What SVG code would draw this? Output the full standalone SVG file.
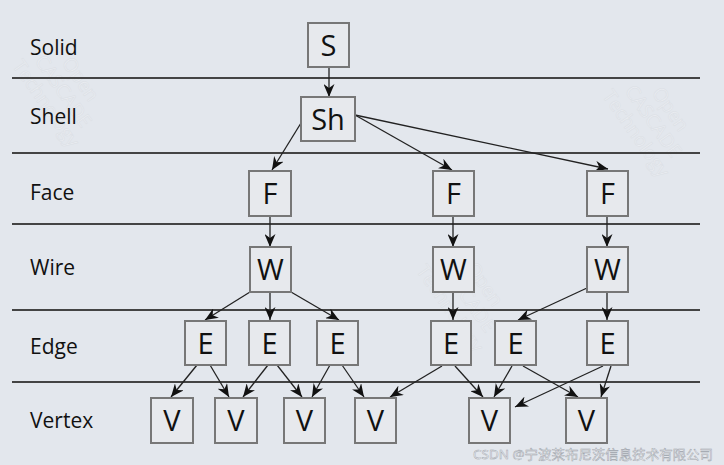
<svg xmlns="http://www.w3.org/2000/svg" width="724" height="465" viewBox="0 0 724 465">
<defs>
<marker id="ah" markerUnits="userSpaceOnUse" markerWidth="14" markerHeight="11" refX="13" refY="5.5" orient="auto">
<path d="M0,0 L13,5.5 L0,11 L4,5.5 Z" fill="#111"/>
</marker>
</defs>
<style>
.bg{fill:#e3e7ed}
.sep{stroke:#444;stroke-width:2}
.lbl{font-family:"Open Sans","Noto Sans",sans-serif;font-size:21px;fill:#111}
.box{fill:#e7e9ed;stroke:#777;stroke-width:2}
.nt{font-family:"Open Sans","Noto Sans",sans-serif;font-size:29px;fill:#111;text-anchor:middle}
.cn{stroke:#222;stroke-width:1.3;fill:none;marker-end:url(#ah)}
.wm{font-family:"Open Sans","Noto Sans",sans-serif;font-size:19px;fill:#eef0f4;stroke:#d6dae0;stroke-width:0.5;text-anchor:middle;opacity:0.6}
</style>
<rect class="bg" x="0" y="0" width="724" height="465"/>
<g id="watermarks">
<text class="wm" transform="translate(58,95) rotate(55)"><tspan x="0" y="-21">Open</tspan><tspan x="0" y="0">CASCADE</tspan><tspan x="0" y="21">Technology</tspan></text>
<text class="wm" transform="translate(648,125) rotate(55)"><tspan x="0" y="-21">Open</tspan><tspan x="0" y="0">CASCADE</tspan><tspan x="0" y="21">Technology</tspan></text>
<text class="wm" transform="translate(462,300) rotate(55)"><tspan x="0" y="-21">Open</tspan><tspan x="0" y="0">CASCADE</tspan><tspan x="0" y="21">Technology</tspan></text>
</g>
<g id="separators">
<line class="sep" x1="12" y1="78" x2="700" y2="78"/>
<line class="sep" x1="12" y1="153" x2="700" y2="153"/>
<line class="sep" x1="12" y1="224" x2="700" y2="224"/>
<line class="sep" x1="12" y1="310" x2="700" y2="310"/>
<line class="sep" x1="12" y1="382" x2="700" y2="382"/>
</g>
<g id="labels">
<text class="lbl" x="30" y="55">Solid</text>
<text class="lbl" x="30" y="124">Shell</text>
<text class="lbl" x="30" y="200">Face</text>
<text class="lbl" x="30" y="275">Wire</text>
<text class="lbl" x="30" y="354">Edge</text>
<text class="lbl" x="30" y="428">Vertex</text>
</g>
<g id="connectors">
<line class="cn" x1="329" y1="67" x2="329" y2="97"/>
<line class="cn" x1="301" y1="123" x2="272" y2="170"/>
<line class="cn" x1="355" y1="115" x2="452" y2="170"/>
<line class="cn" x1="355" y1="115" x2="608" y2="169"/>
<line class="cn" x1="270" y1="216" x2="270" y2="247"/>
<line class="cn" x1="453" y1="216" x2="453" y2="247"/>
<line class="cn" x1="607" y1="216" x2="607" y2="247"/>
<line class="cn" x1="250" y1="292" x2="205" y2="320"/>
<line class="cn" x1="270" y1="292" x2="270" y2="320"/>
<line class="cn" x1="291" y1="292" x2="339" y2="320"/>
<line class="cn" x1="453" y1="292" x2="453" y2="320"/>
<line class="cn" x1="587" y1="288" x2="518" y2="320"/>
<line class="cn" x1="607" y1="292" x2="607" y2="320"/>
<line class="cn" x1="197" y1="365" x2="171" y2="397"/>
<line class="cn" x1="210" y1="365" x2="229" y2="397"/>
<line class="cn" x1="268" y1="365" x2="243" y2="397"/>
<line class="cn" x1="277" y1="365" x2="302" y2="397"/>
<line class="cn" x1="330" y1="365" x2="312" y2="397"/>
<line class="cn" x1="342" y1="365" x2="364" y2="397"/>
<line class="cn" x1="442" y1="366" x2="390" y2="397"/>
<line class="cn" x1="455" y1="366" x2="483" y2="397"/>
<line class="cn" x1="512" y1="366" x2="494" y2="397"/>
<line class="cn" x1="523" y1="366" x2="578" y2="397"/>
<line class="cn" x1="603" y1="366" x2="515" y2="407"/>
<line class="cn" x1="611" y1="366" x2="601" y2="397"/>
</g>
<g id="S"><rect class="box" x="308" y="23" width="41" height="44"/><text class="nt" x="328.5" y="55.5">S</text></g>
<g id="Sh"><rect class="box" x="301" y="97" width="54" height="44"/><text class="nt" x="328" y="129.5">Sh</text></g>
<g id="F1"><rect class="box" x="249" y="171" width="42" height="45"/><text class="nt" x="270" y="204">F</text></g>
<g id="F2"><rect class="box" x="433" y="171" width="41" height="45"/><text class="nt" x="453.5" y="204">F</text></g>
<g id="F3"><rect class="box" x="587" y="171" width="41" height="45"/><text class="nt" x="607.5" y="204">F</text></g>
<g id="W1"><rect class="box" x="250" y="247" width="41" height="45"/><text class="nt" x="270.5" y="280">W</text></g>
<g id="W2"><rect class="box" x="433" y="247" width="41" height="45"/><text class="nt" x="453.5" y="280">W</text></g>
<g id="W3"><rect class="box" x="587" y="247" width="41" height="45"/><text class="nt" x="607.5" y="280">W</text></g>
<g id="E1"><rect class="box" x="185" y="321" width="41" height="44"/><text class="nt" x="205.5" y="353.5">E</text></g>
<g id="E2"><rect class="box" x="249" y="321" width="41" height="44"/><text class="nt" x="269.5" y="353.5">E</text></g>
<g id="E3"><rect class="box" x="317" y="321" width="41" height="44"/><text class="nt" x="337.5" y="353.5">E</text></g>
<g id="E4"><rect class="box" x="431" y="321" width="40" height="44"/><text class="nt" x="451" y="353.5">E</text></g>
<g id="E5"><rect class="box" x="495" y="321" width="41" height="44"/><text class="nt" x="515.5" y="353.5">E</text></g>
<g id="E6"><rect class="box" x="587" y="321" width="41" height="44"/><text class="nt" x="607.5" y="353.5">E</text></g>
<g id="V1"><rect class="box" x="151" y="398" width="42" height="45"/><text class="nt" x="172" y="431">V</text></g>
<g id="V2"><rect class="box" x="215" y="398" width="42" height="45"/><text class="nt" x="236" y="431">V</text></g>
<g id="V3"><rect class="box" x="284" y="398" width="41" height="45"/><text class="nt" x="304.5" y="431">V</text></g>
<g id="V4"><rect class="box" x="355" y="398" width="41" height="45"/><text class="nt" x="375.5" y="431">V</text></g>
<g id="V5"><rect class="box" x="469" y="398" width="41" height="45"/><text class="nt" x="489.5" y="431">V</text></g>
<g id="V6"><rect class="box" x="566" y="398" width="41" height="45"/><text class="nt" x="586.5" y="431">V</text></g>
<text x="473" y="459" textLength="240" lengthAdjust="spacingAndGlyphs" style="font-family:'Noto Sans','Noto Sans CJK SC',sans-serif;font-size:13px;fill:#f4f5f7;stroke:#9aa0a8;stroke-width:0.45">CSDN @宁波莱布尼茨信息技术有限公司</text>
</svg>
